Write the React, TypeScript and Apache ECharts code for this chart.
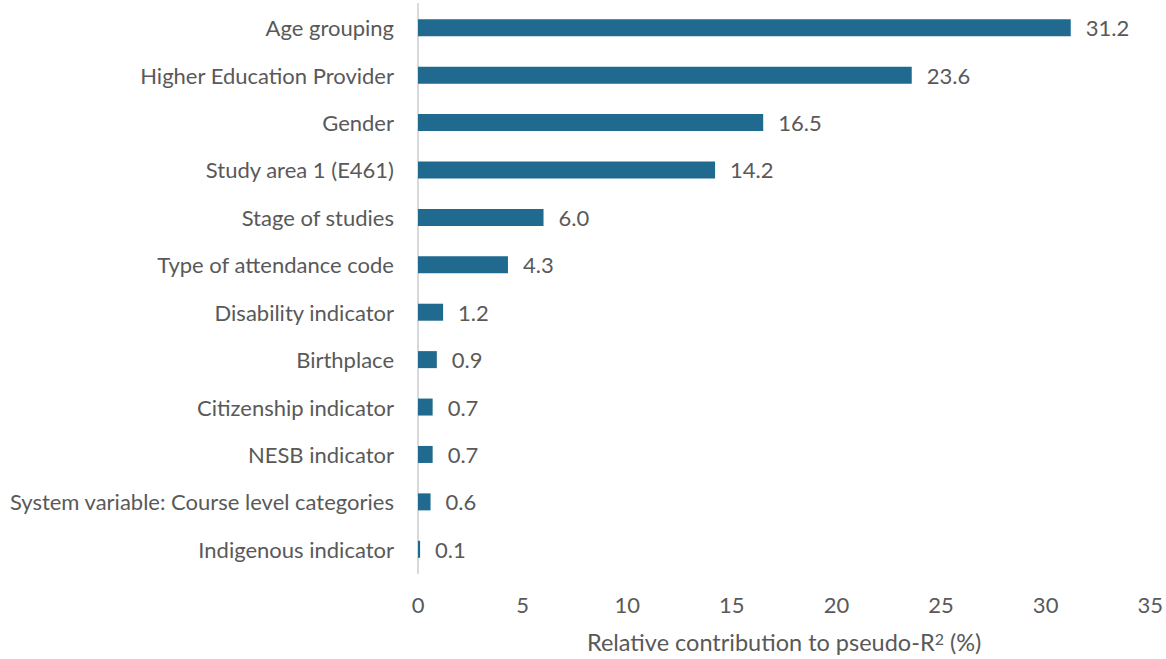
import React, { useEffect, useRef } from "react";
import * as echarts from "echarts";

const categories = [
  "Age grouping",
  "Higher Education Provider",
  "Gender",
  "Study area 1 (E461)",
  "Stage of studies",
  "Type of attendance code",
  "Disability indicator",
  "Birthplace",
  "Citizenship indicator",
  "NESB indicator",
  "System variable: Course level categories",
  "Indigenous indicator",
];
const values = [31.2, 23.6, 16.5, 14.2, 6.0, 4.3, 1.2, 0.9, 0.7, 0.7, 0.6, 0.1];
const xTicks = { min: 0, max: 35, interval: 5 };
const axisTitle = "Relative contribution to pseudo-R{sup|2} (%)";

const FONT = "Lato";
const TEXT = "#595959";
const FS = 22;

export default function App() {
  const ref = useRef<HTMLDivElement>(null);
  useEffect(() => {
    if (!ref.current) return;
    const chart = echarts.init(ref.current, undefined, { renderer: "svg" });
    chart.setOption({
      animation: false,
      grid: { left: 418, width: 736, top: 4, height: 573, containLabel: false },
      xAxis: {
        type: "value",
        min: xTicks.min,
        max: xTicks.max,
        interval: xTicks.interval,
        axisLine: { show: false },
        axisTick: { show: false },
        splitLine: { show: false },
        axisLabel: { color: TEXT, fontFamily: FONT, fontSize: FS, margin: 20 },
        name: axisTitle,
        nameLocation: "middle",
        nameGap: 57,
        nameTextStyle: {
          color: TEXT,
          fontFamily: FONT,
          fontSize: 23.5,
          rich: {
            sup: {
              color: TEXT,
              fontFamily: FONT,
              fontSize: 16,
              verticalAlign: "top",
              lineHeight: 16,
            },
          },
        },
      },
      yAxis: {
        type: "category",
        data: categories,
        inverse: true,
        axisLine: { show: true, lineStyle: { color: "#d9d9d9", width: 2 } },
        axisTick: { show: false },
        axisLabel: { color: TEXT, fontFamily: FONT, fontSize: FS, margin: 24 },
      },
      series: [
        {
          type: "bar",
          data: values,
          barWidth: 17,
          itemStyle: { color: "#1f6a8e" },
          label: {
            show: true,
            position: "right",
            distance: 15,
            color: TEXT,
            fontFamily: FONT,
            fontSize: FS,
            formatter: (p: any) => Number(p.value).toFixed(1),
          },
        },
      ],
    });
    return () => chart.dispose();
  }, []);
  return (
    <div
      ref={ref}
      style={{ position: "fixed", left: 0, top: 0, width: 1166, height: 659, background: "#fff" }}
    />
  );
}
